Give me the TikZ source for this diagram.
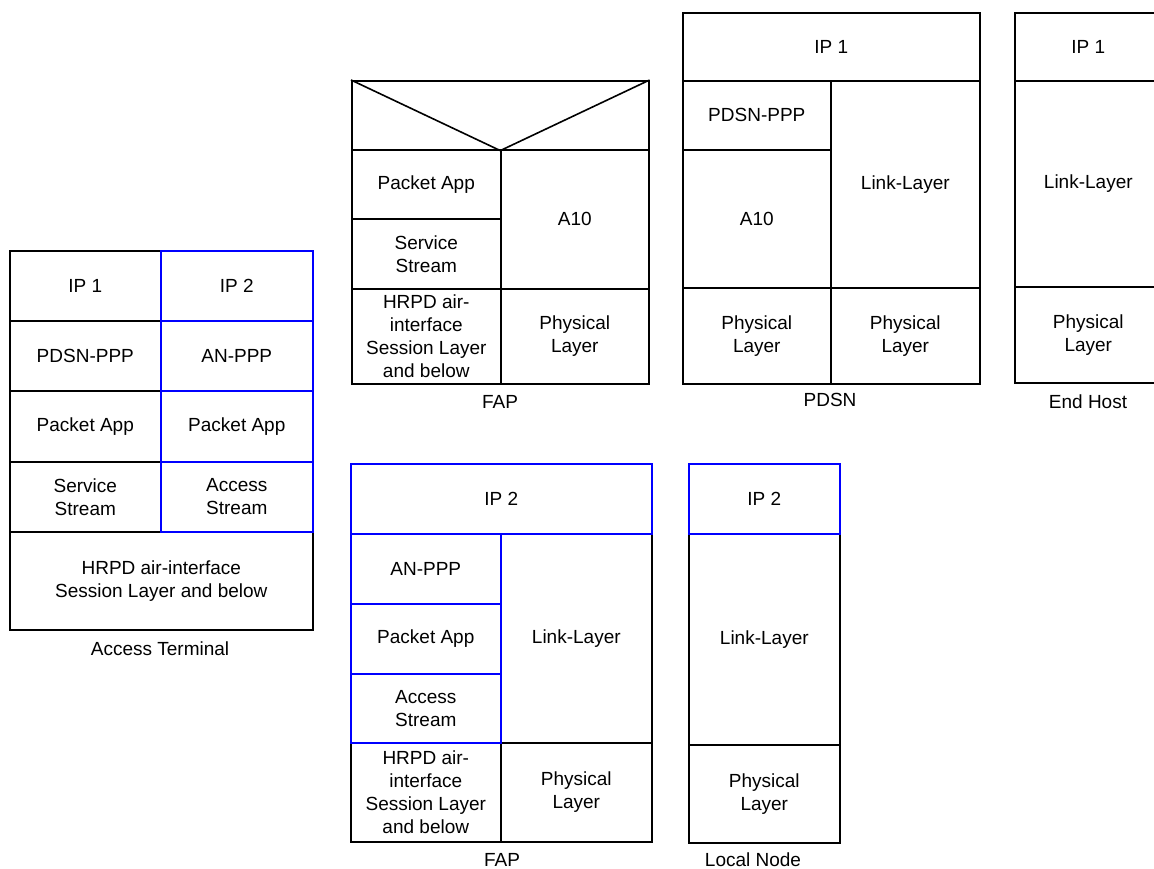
\documentclass[tikz,border=0pt]{standalone}
\usepackage{fontspec}
\setmainfont{Liberation Sans}
\begin{document}
\begin{tikzpicture}[x=1pt,y=-1pt,
  cell/.style={draw=black,line width=1.6pt,inner sep=0pt,align=center,
    font=\fontsize{19}{23}\selectfont},
  bcell/.style={cell,draw=blue},
  caption/.style={inner sep=0pt,font=\fontsize{19}{23}\selectfont}]
\newcommand{\lyr}[7]{%
  \node[#1,anchor=north west,minimum width={(#5-#3)*1pt},minimum height={(#6-#4)*1pt}] (#2) at (#3,#4) {#7};}
\useasboundingbox (0,0) rectangle (1154,869);
\clip (0,0) rectangle (1154,869);
% Access Terminal
\lyr{cell}{atipa}{9}{250}{160}{320}{IP 1}
\lyr{cell}{atpppa}{9}{320}{160}{390}{PDSN-PPP}
\lyr{cell}{atpaa}{9}{390}{160}{461}{Packet App}
\lyr{cell}{atss}{9}{461}{160}{531}{Service\\Stream}
\lyr{cell}{athrpd}{9}{531}{312}{629}{HRPD air-interface\\Session Layer and below}
\lyr{bcell}{atipb}{160}{250}{312}{320}{IP 2}
\lyr{bcell}{atpppb}{160}{320}{312}{390}{AN-PPP}
\lyr{bcell}{atpab}{160}{390}{312}{461}{Packet App}
\lyr{bcell}{atas}{160}{461}{312}{531}{Access\\Stream}
\node[caption] (atlab) at (160,649) {Access Terminal};
% FAP (upper)
\lyr{cell}{fatop}{351}{80}{648}{149}{}
\draw[line width=1.6pt] (fatop.north west) -- (fatop.south) -- (fatop.north east);
\lyr{cell}{fapa}{351}{149}{500}{218}{Packet App}
\lyr{cell}{fass}{351}{218}{500}{288}{Service\\Stream}
\lyr{cell}{faaten}{500}{149}{648}{288}{A10}
\lyr{cell}{fahrpd}{351}{288}{500}{383}{HRPD air-\\interface\\Session Layer\\and below}
\lyr{cell}{faphy}{500}{288}{648}{383}{Physical\\Layer}
\node[caption] (falab) at (500,402) {FAP};
% PDSN
\lyr{cell}{pip}{682}{12}{979}{80}{IP 1}
\lyr{cell}{pppp}{682}{80}{830}{149}{PDSN-PPP}
\lyr{cell}{paten}{682}{149}{830}{287}{A10}
\lyr{cell}{plink}{830}{80}{979}{287}{Link-Layer}
\lyr{cell}{pphya}{682}{287}{830}{383}{Physical\\Layer}
\lyr{cell}{pphyb}{830}{287}{979}{383}{Physical\\Layer}
\node[caption] (plab) at (830,400) {PDSN};
% End Host
\lyr{cell}{eip}{1014}{12}{1161}{80}{IP 1}
\lyr{cell}{elink}{1014}{80}{1161}{286}{Link-Layer}
\lyr{cell}{ephy}{1014}{286}{1161}{382}{Physical\\Layer}
\node[caption] (elab) at (1088,402) {End Host};
% FAP (lower)
\lyr{cell}{fblink}{500}{533}{651}{742}{Link-Layer}
\lyr{cell}{fbhrpd}{350}{742}{500}{841}{HRPD air-\\interface\\Session Layer\\and below}
\lyr{cell}{fbphy}{500}{742}{651}{841}{Physical\\Layer}
\lyr{bcell}{fbip}{350}{463}{651}{533}{IP 2}
\lyr{bcell}{fbppp}{350}{533}{500}{603}{AN-PPP}
\lyr{bcell}{fbpa}{350}{603}{500}{673}{Packet App}
\lyr{bcell}{fbas}{350}{673}{500}{742}{Access\\Stream}
\node[caption] (fblab) at (502,860) {FAP};
% Local Node
\lyr{cell}{llink}{688}{533}{839}{744}{Link-Layer}
\lyr{cell}{lphy}{688}{744}{839}{842}{Physical\\Layer}
\lyr{bcell}{lip}{688}{463}{839}{533}{IP 2}
\node[caption] (llab) at (753,860) {Local Node};
\end{tikzpicture}
\end{document}
